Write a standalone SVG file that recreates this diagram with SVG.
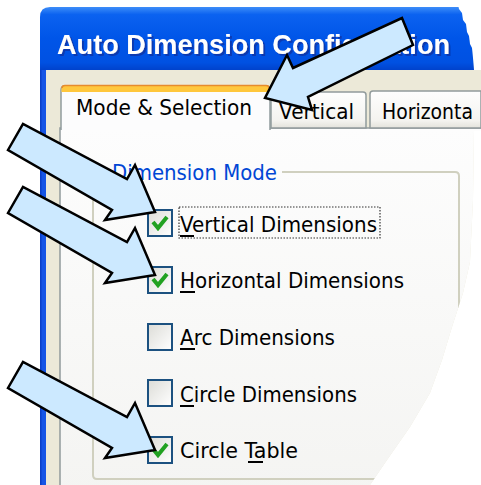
<svg xmlns="http://www.w3.org/2000/svg" width="481" height="485" viewBox="0 0 481 485">
  <style>
    .ui { font-family: "DejaVu Sans", "Liberation Sans", sans-serif; font-size: 22px; fill: #000; }
    .title { font-family: "Liberation Sans", Arial, sans-serif; font-size: 28px; font-weight: bold; fill: #FFFFFF; filter: url(#titleShadow); }
    .grp { fill: #0046D5; }
    .tabBorder { stroke: #919B9C; stroke-width: 1.5; }
    .box { fill: url(#boxGrad); stroke: #1C5180; stroke-width: 2; }
    .tick { fill: none; stroke: #21A121; stroke-width: 4; stroke-linejoin: miter; }
    .accel { fill: #000; }
    .callout { fill: #CCE9FF; stroke: #000; stroke-width: 2.5; stroke-linejoin: miter; }
  </style>
  <defs>
    <linearGradient id="titleGrad" x1="0" y1="0" x2="0" y2="1">
      <stop offset="0" stop-color="#3D8DF8"/>
      <stop offset="0.12" stop-color="#0B62F0"/>
      <stop offset="0.5" stop-color="#0055E8"/>
      <stop offset="0.88" stop-color="#0051E2"/>
      <stop offset="1" stop-color="#0042CC"/>
    </linearGradient>
    <linearGradient id="pageGrad" x1="0" y1="0" x2="0" y2="1">
      <stop offset="0" stop-color="#FDFDFD"/>
      <stop offset="1" stop-color="#F4F4F2"/>
    </linearGradient>
    <linearGradient id="tabGrad" x1="0" y1="0" x2="0" y2="1">
      <stop offset="0" stop-color="#FEFEFE"/>
      <stop offset="0.8" stop-color="#F4F3EF"/>
      <stop offset="1" stop-color="#E3E2DB"/>
    </linearGradient>
    <linearGradient id="boxGrad" x1="0" y1="0" x2="1" y2="1">
      <stop offset="0" stop-color="#DCDCD7"/>
      <stop offset="1" stop-color="#FFFFFF"/>
    </linearGradient>
    <filter id="titleShadow" x="-5%" y="-20%" width="110%" height="150%">
      <feDropShadow dx="2" dy="2" stdDeviation="0.6" flood-color="#0A2E9A" flood-opacity="0.7"/>
    </filter>
    <!-- torn right edge of the dialog -->
    <clipPath id="torn">
      <path d="M0,0 H457 L459,9 L462,13 L463,20 L466,24 L467,32 L469,36 L470,44 L472,48 L473,58 L474,70 H481 V131 H474 L473,200 L470,262 L463,293 L452,327 L442,360 L430,393 L410,427 L387,460 L370,485 H0 Z"/>
    </clipPath>
  </defs>

  <rect width="481" height="485" fill="#FFFFFF"/>

  <g id="dialog" clip-path="url(#torn)">
    <!-- window body and frame -->
    <rect x="40" y="40" width="441" height="445" fill="#ECE9D8"/>
    <rect x="40" y="40" width="6" height="445" fill="#1655E6"/>
    <rect x="40" y="40" width="1.5" height="445" fill="#0A3FC8"/>
    <path d="M40,70 V17 Q40,7 50,7 H481 V70 Z" fill="url(#titleGrad)"/>
    <text class="title" x="57" y="54" textLength="393" lengthAdjust="spacingAndGlyphs">Auto Dimension Configuration</text>

    <!-- tab page -->
    <rect x="60" y="128" width="430" height="370" fill="url(#pageGrad)" class="tabBorder"/>

    <g id="tab-vertical">
      <path d="M271,128 V95 Q271,92 274,92 H363 Q366,92 366,95 V128 Z" fill="url(#tabGrad)" class="tabBorder"/>
      <text class="ui" x="279" y="119" textLength="75" lengthAdjust="spacingAndGlyphs">Vertical</text>
    </g>
    <g id="tab-mode">
      <path d="M61,130 V90 Q61,86 65,86 H266 Q270,86 270,90 V130" fill="#FCFCFD" class="tabBorder"/>
      <path d="M61.5,92 V89 Q61.5,85.5 65,85.5 H266 Q269.5,85.5 269.5,89 V92 Z" fill="#FFC73C"/>
      <path d="M62,88 Q62,85.5 65,85.5 H266 Q269,85.5 269,88" fill="none" stroke="#E68B2C" stroke-width="1.5"/>
      <text class="ui" x="76" y="115" textLength="176" lengthAdjust="spacingAndGlyphs">Mode &amp; Selection</text>
    </g>

    <!-- group box -->
    <g id="group-dimension-mode">
      <path d="M106,172 H97 Q93,172 93,176 V475 Q93,479 97,479 H455 Q459,479 459,475 V176 Q459,172 455,172 H282" fill="none" stroke="#D0D0BF" stroke-width="2"/>
      <text class="ui grp" x="112" y="180" textLength="165" lengthAdjust="spacingAndGlyphs">Dimension Mode</text>
    </g>

    <g id="cb-vertical">
      <rect class="box" x="148" y="210" width="24" height="26"/>
      <path class="tick" d="M153,222 L158,228 L167,217"/>
      <text class="ui" x="180" y="232" textLength="197" lengthAdjust="spacingAndGlyphs">Vertical Dimensions</text>
      <rect class="accel" x="180" y="235" width="14" height="2"/>
      <rect x="179" y="207" width="201" height="31" fill="none" stroke="#333" stroke-width="1.2" stroke-dasharray="1.5 1.5"/>
    </g>
    <g id="cb-horizontal">
      <rect class="box" x="148" y="267" width="24" height="26"/>
      <path class="tick" d="M153,279 L158,285 L167,274"/>
      <text class="ui" x="180" y="288" textLength="224" lengthAdjust="spacingAndGlyphs">Horizontal Dimensions</text>
      <rect class="accel" x="180" y="291" width="15" height="2"/>
    </g>
    <g id="cb-arc">
      <rect class="box" x="148" y="324" width="24" height="26"/>
      <text class="ui" x="180" y="345" textLength="155" lengthAdjust="spacingAndGlyphs">Arc Dimensions</text>
      <rect class="accel" x="180" y="348" width="15" height="2"/>
    </g>
    <g id="cb-circle">
      <rect class="box" x="148" y="380" width="24" height="26"/>
      <text class="ui" x="180" y="402" textLength="177" lengthAdjust="spacingAndGlyphs">Circle Dimensions</text>
      <rect class="accel" x="180" y="405" width="14" height="2"/>
    </g>
    <g id="cb-circle-table">
      <rect class="box" x="148" y="437" width="24" height="26"/>
      <path class="tick" d="M153,449 L158,455 L167,444"/>
      <text class="ui" x="180" y="458" textLength="118" lengthAdjust="spacingAndGlyphs">Circle Table</text>
      <rect class="accel" x="248" y="461" width="15" height="2"/>
    </g>
  </g>

  <!-- third tab runs to the right edge of the image -->
  <g id="tab-horizontal">
    <path d="M370,128 V94 Q370,91 373,91 H481 V128 Z" fill="url(#tabGrad)" class="tabBorder"/>
    <text class="ui" x="382" y="119" textLength="91" lengthAdjust="spacingAndGlyphs">Horizonta</text>
  </g>

  <!-- callout arrows -->
  <g id="connectors">
    <polygon class="callout" points="402,18 413,45 308,97 312,110 265,98 287,55 293,68"/>
    <polygon class="callout" points="8,150 23,124 127,179 135,165 155,212 105,220 112,210"/>
    <polygon class="callout" points="8,213 23,187 127,242 135,228 155,275 105,283 112,273"/>
    <polygon class="callout" points="8,388 23,362 127,417 135,403 155,450 105,458 112,448"/>
  </g>
</svg>
